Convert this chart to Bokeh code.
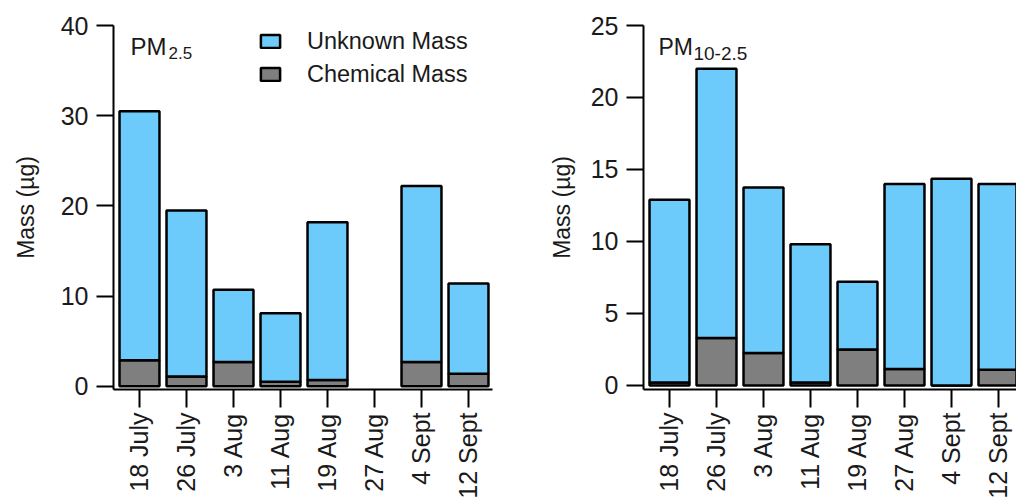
import math
from bokeh.plotting import figure
from bokeh.models import (ColumnDataSource, FixedTicker, Legend, LegendItem,
                          Label, Range1d)
from bokeh.layouts import row
from bokeh.embed import file_html
from bokeh.resources import INLINE

# ---------------- data ----------------
dates = ["18 July", "26 July", "3 Aug", "11 Aug", "19 Aug", "27 Aug", "4 Sept", "12 Sept"]
NAN = float("nan")
pm25_chemical = [2.9, 1.1, 2.7, 0.5, 0.7, NAN, 2.7, 1.4]
pm25_unknown = [27.6, 18.4, 8.0, 7.6, 17.5, NAN, 19.5, 10.0]
pmc_chemical = [0.2, 3.3, 2.25, 0.2, 2.5, 1.15, 0.0, 1.1]
pmc_unknown = [12.7, 18.7, 11.5, 9.6, 4.7, 12.85, 14.35, 12.9]
pm25_yticks = [0, 10, 20, 30, 40]
pmc_yticks = [0, 5, 10, 15, 20, 25]
series_names = ["Unknown Mass", "Chemical Mass"]

FONT = "Liberation Sans"
BLUE = "#6ccbfb"
GRAY = "#7f7f7f"
INK = "#1a1a1a"


def make_panel(chem, unk, yticks, y_start, y_end, x_end, width, b_left, b_right,
               label_standoff, main_x, sub, sub_x, main_size, sub_size):
    xs = list(range(len(dates)))
    src = ColumnDataSource(dict(x=xs, chemical=chem, unknown=unk))
    p = figure(width=width, height=503,
               x_range=Range1d(-0.553, x_end), y_range=Range1d(y_start, y_end),
               output_backend="svg", toolbar_location=None,
               min_border_left=b_left, min_border_right=b_right,
               min_border_top=25, min_border_bottom=114)
    rs = p.vbar_stack(["chemical", "unknown"], x="x", width=0.85, source=src,
                      fill_color=[GRAY, BLUE], line_color="black", line_width=2.5)
    p.xgrid.visible = False
    p.ygrid.visible = False
    p.outline_line_color = None
    p.background_fill_color = "white"
    p.border_fill_color = "white"

    xa = p.xaxis[0]
    xa.ticker = FixedTicker(ticks=xs)
    xa.major_label_overrides = {i: d for i, d in enumerate(dates)}
    xa.major_label_orientation = math.pi / 2
    xa.major_tick_out = 18
    xa.major_tick_in = 0
    xa.minor_tick_out = 0
    xa.minor_tick_in = 0
    xa.axis_line_width = 2
    xa.major_tick_line_width = 2
    xa.major_label_standoff = 5
    xa.major_label_text_font = FONT
    xa.major_label_text_font_size = "25px"
    xa.major_label_text_color = INK

    ya = p.yaxis[0]
    ya.ticker = FixedTicker(ticks=yticks)
    ya.major_tick_out = 17
    ya.major_tick_in = 0
    ya.minor_tick_out = 0
    ya.minor_tick_in = 0
    ya.axis_line_width = 2
    ya.major_tick_line_width = 2
    ya.major_label_standoff = 8
    ya.major_label_text_font = FONT
    ya.major_label_text_font_size = "25px"
    ya.major_label_text_color = INK
    ya.axis_label = "Mass (µg)"
    ya.axis_label_text_font = FONT
    ya.axis_label_text_font_style = "normal"
    ya.axis_label_text_font_size = "23px"
    ya.axis_label_text_color = INK
    ya.axis_label_standoff = label_standoff

    # panel title with subscript
    yscale = 364.0 / (y_end - y_start)
    p.add_layout(Label(x=main_x, y=y_end - 21.0 / yscale, text="PM",
                       text_font=FONT, text_font_size=main_size, text_color=INK,
                       text_baseline="alphabetic"))
    p.add_layout(Label(x=sub_x, y=y_end - 27.5 / yscale, text=sub,
                       text_font=FONT, text_font_size=sub_size, text_color=INK,
                       text_baseline="alphabetic"))
    return p, rs


p1, rs1 = make_panel(pm25_chemical, pm25_unknown, pm25_yticks, -0.35, 40,
                     -0.553 + 379 / 47.0, 500, 113, 8, 19,
                     -0.19, "2.5", 0.617, "24px", "17px")
p2, rs2 = make_panel(pmc_chemical, pmc_unknown, pmc_yticks, -0.28, 25,
                     -0.553 + 373 / 47.0, 516, 143, 0, 13,
                     -0.234, "10-2.5", 0.51, "23px", "19px")

legend = Legend(items=[LegendItem(label=series_names[0], renderers=[rs1[1]]),
                       LegendItem(label=series_names[1], renderers=[rs1[0]])],
                location=(145, 301), orientation="vertical",
                glyph_width=24, glyph_height=16, label_height=28,
                label_standoff=25, spacing=5, padding=0, margin=0,
                label_text_font=FONT, label_text_font_size="23.5px",
                label_text_color=INK, border_line_alpha=0,
                background_fill_alpha=0)
p1.add_layout(legend)

layout = row(p1, p2)
open("out.html", "w").write(file_html(layout, INLINE))
